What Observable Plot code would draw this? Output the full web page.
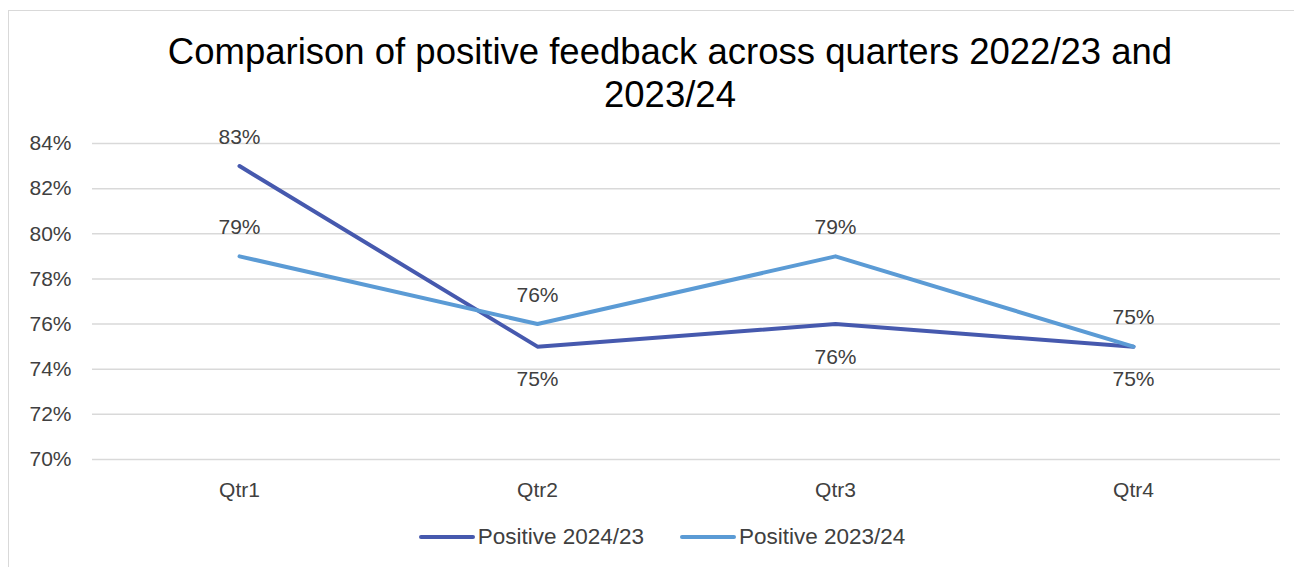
<!DOCTYPE html>
<html>
<head>
<meta charset="utf-8">
<script src="https://cdn.jsdelivr.net/npm/d3@7"></script>
<script src="https://cdn.jsdelivr.net/npm/@observablehq/plot@0.6"></script>
<style>
  html, body { margin: 0; padding: 0; background: #fff; }
  body { width: 1294px; height: 567px; position: relative; overflow: hidden; font-family: "Liberation Sans", Arial, sans-serif; }
  #frame { position: absolute; left: 8px; top: 10px; width: 1400px; height: 700px; border-left: 1px solid #d9d9d9; border-top: 1px solid #d9d9d9; box-sizing: border-box; }
  #title { position: absolute; left: 0; top: 30px; width: 1340px; text-align: center; font-size: 36.5px; line-height: 43px; color: #000; }
  #chart { position: absolute; left: 0; top: 0; }
  #legend { position: absolute; left: 0; top: 524px; width: 1324px; height: 26px; display: flex; justify-content: center; align-items: center; gap: 36px; font-size: 22.5px; color: #404040; }
  .item { display: flex; align-items: center; }
  .item svg { margin-right: 3px; }
</style>
</head>
<body>
<div id="frame"></div>
<div id="chart"></div>
<div id="title">Comparison of positive feedback across quarters 2022/23 and<br>2023/24</div>
<div id="legend"></div>
<script>
const quarters = ["Qtr1", "Qtr2", "Qtr3", "Qtr4"];
const seriesNames = ["Positive 2024/23", "Positive 2023/24"];
const positive2024_23 = [0.83, 0.75, 0.76, 0.75];
const positive2023_24 = [0.79, 0.76, 0.79, 0.75];
const labelSide2024_23 = ["above", "below", "below", "below"];
const labelSide2023_24 = ["above", "above", "above", "above"];
const yTicks = [0.70, 0.72, 0.74, 0.76, 0.78, 0.80, 0.82, 0.84];
const colors = ["#4659AE", "#5B9BD5"];

const rows = [];
quarters.forEach((q, i) => {
  rows.push({q, v: positive2024_23[i], s: seriesNames[0], side: labelSide2024_23[i]});
});
quarters.forEach((q, i) => {
  rows.push({q, v: positive2023_24[i], s: seriesNames[1], side: labelSide2023_24[i]});
});
const fmt = d3.format(".0%");

const chart = Plot.plot({
  width: 1294,
  height: 567,
  marginLeft: 92,
  marginRight: 14,
  marginTop: 143,
  marginBottom: 108,
  style: {fontFamily: "Liberation Sans, Arial, sans-serif", fontSize: "21px", color: "#404040", background: "transparent"},
  x: {type: "point", domain: quarters, padding: 0.49},
  y: {domain: [0.70, 0.84]},
  color: {domain: seriesNames, range: colors},
  marks: [
    Plot.ruleY(yTicks, {stroke: "#d9d9d9", strokeWidth: 1.5}),
    Plot.axisY({ticks: yTicks, tickFormat: fmt, tickSize: 0, tickPadding: 21, label: null, fill: "#404040", fontSize: 21}),
    Plot.axisX({tickSize: 0, tickPadding: 23, label: null, fill: "#404040", fontSize: 21}),
    Plot.line(rows, {x: "q", y: "v", z: "s", stroke: "s", strokeWidth: 4, strokeLinejoin: "round"}),
    Plot.text(rows.filter(d => d.side === "above"), {x: "q", y: "v", text: d => fmt(d.v), dy: -29, fill: "#404040", fontSize: 21}),
    Plot.text(rows.filter(d => d.side === "below"), {x: "q", y: "v", text: d => fmt(d.v), dy: 33, fill: "#404040", fontSize: 21})
  ]
});
document.getElementById("chart").appendChild(chart);

const legend = document.getElementById("legend");
seriesNames.forEach((name, i) => {
  const item = document.createElement("div");
  item.className = "item";
  item.innerHTML = `<svg width="56" height="8"><line x1="2" y1="4" x2="54" y2="4" stroke="${colors[i]}" stroke-width="4" stroke-linecap="round"/></svg><span>${name}</span>`;
  legend.appendChild(item);
});
</script>
</body>
</html>
